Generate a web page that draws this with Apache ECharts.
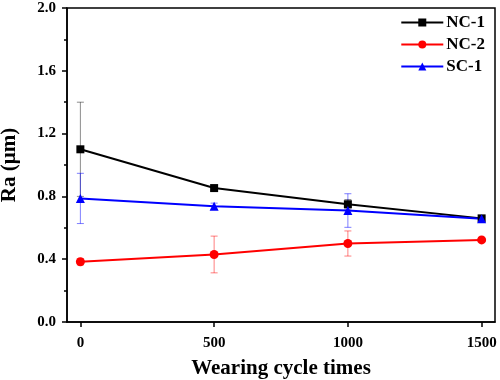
<!DOCTYPE html>
<html><head><meta charset="utf-8">
<script src="https://cdn.jsdelivr.net/npm/echarts@6/dist/echarts.min.js"></script>
<style>html,body{margin:0;padding:0;background:#fff}#c{width:500px;height:380px}</style>
</head><body><div id="c"></div>
<script>
var cycles = [0, 500, 1000, 1500];
var nc1 = [1.10, 0.853, 0.75, 0.66];
var nc1Err = [0.30, 0.015, 0.03, 0.01];
var nc2 = [0.384, 0.43, 0.50, 0.523];
var nc2Err = [0.02, 0.117, 0.08, 0.01];
var sc1 = [0.787, 0.737, 0.71, 0.657];
var sc1Err = [0.16, 0.02, 0.107, 0.01];
var xTicks = [0, 500, 1000, 1500];

var font = '"Liberation Serif","Times New Roman",serif';
function pts(v){ return cycles.map(function(c,i){return [c, v[i]];}); }
function errData(v,e){ return cycles.map(function(c,i){return [c, v[i]-e[i], v[i]+e[i]];}); }
function errSeries(v,e,color){
  return {
    type:'custom', silent:true, z:1,
    data: errData(v,e),
    renderItem:function(params, api){
      var x=api.value(0), lo=api.value(1), hi=api.value(2);
      var p1=api.coord([x,lo]), p2=api.coord([x,hi]);
      var w=3.5;
      var st={stroke:color, lineWidth:1};
      return {type:'group', children:[
        {type:'line', shape:{x1:p1[0],y1:p1[1],x2:p2[0],y2:p2[1]}, style:st},
        {type:'line', shape:{x1:p1[0]-w,y1:p1[1],x2:p1[0]+w,y2:p1[1]}, style:st},
        {type:'line', shape:{x1:p2[0]-w,y1:p2[1],x2:p2[0]+w,y2:p2[1]}, style:st}
      ]};
    }
  };
}
var chart = echarts.init(document.getElementById('c'));
chart.setOption({
  animation:false,
  backgroundColor:'#fff',
  grid:{left:67,right:5,top:8,bottom:58,containLabel:false,outerBoundsMode:'none',
    show:true,borderColor:'#000',borderWidth:1.5,backgroundColor:'transparent'},
  legend:{
    right:10, top:9, orient:'vertical', itemWidth:42, itemHeight:10, itemGap:5,
    textStyle:{fontFamily:font, fontWeight:'bold', fontSize:17, color:'#000', padding:[0,0,0,-2]},
    data:['NC-1','NC-2','SC-1']
  },
  xAxis:{
    type:'value', min:-50, max:1550,
    name:'Wearing cycle times', nameLocation:'middle', nameGap:36, nameMoveOverlap:false,
    nameTextStyle:{fontFamily:font, fontWeight:'bold', fontSize:21, color:'#000'},
    axisLine:{onZero:false, lineStyle:{color:'#000', width:1.5}},
    axisTick:{show:true, inside:false, length:5, customValues:xTicks, lineStyle:{width:1.5}},
    axisLabel:{customValues:xTicks, margin:14, fontFamily:font, fontWeight:'bold', fontSize:15, color:'#000',
      formatter:function(v){return String(v);}},
    splitLine:{show:false}
  },
  yAxis:{
    type:'value', min:0, max:2, interval:0.4,
    name:'Ra (μm)', nameLocation:'middle', nameGap:47, nameMoveOverlap:false,
    nameTextStyle:{fontFamily:font, fontWeight:'bold', fontSize:21, color:'#000'},
    axisLine:{show:true, onZero:false, lineStyle:{color:'#000', width:1.5}},
    axisTick:{show:true, length:5, lineStyle:{width:1.5}},
    minorTick:{show:true, splitNumber:2, length:3, lineStyle:{color:'#000', width:1.5}},
    axisLabel:{margin:11, fontFamily:font, fontWeight:'bold', fontSize:15, color:'#000',
      formatter:function(v){return v.toFixed(1);}},
    splitLine:{show:false}
  },
  series:[
    errSeries(nc1, nc1Err, 'rgba(0,0,0,0.45)'),
    errSeries(nc2, nc2Err, 'rgba(255,0,0,0.5)'),
    errSeries(sc1, sc1Err, 'rgba(0,0,255,0.5)'),
    {name:'NC-1', type:'line', data:pts(nc1), symbol:'rect', symbolSize:8, z:3,
     itemStyle:{color:'#000'}, lineStyle:{color:'#000', width:2}},
    {name:'NC-2', type:'line', data:pts(nc2), symbol:'circle', symbolSize:9, z:3,
     itemStyle:{color:'#ff0000'}, lineStyle:{color:'#ff0000', width:2}},
    {name:'SC-1', type:'line', data:pts(sc1), symbol:'triangle', symbolSize:9, z:3,
     itemStyle:{color:'#0000ff'}, lineStyle:{color:'#0000ff', width:2}}
  ]
});
</script></body></html>
